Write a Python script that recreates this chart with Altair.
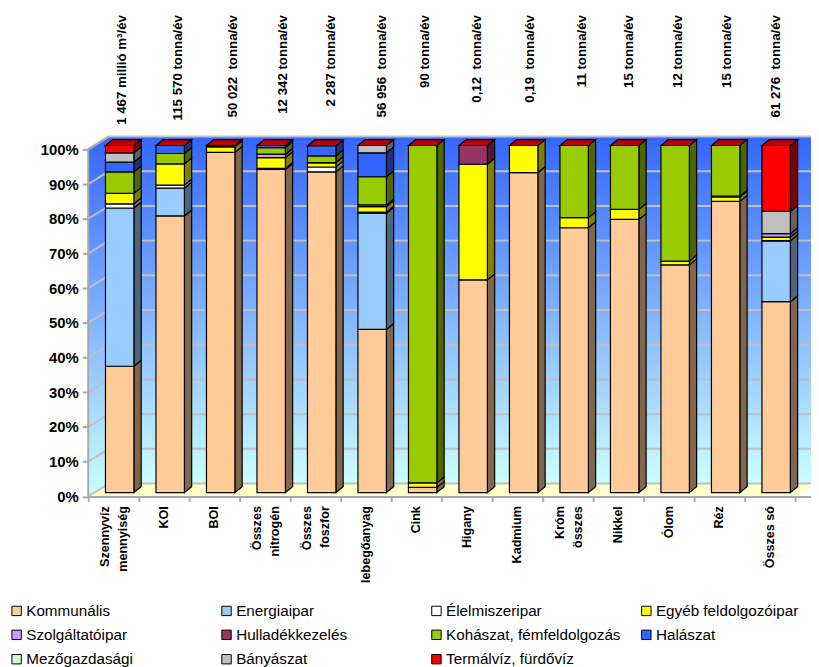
import altair as alt
import pandas as pd

categories = ["Szennyvíz\nmennyiség", "KOI", "BOI", "Összes\nnitrogén", "Összes\nfoszfor", "lebegőanyag",
              "Cink", "Higany", "Kadmium", "Króm\nösszes", "Nikkel", "Ólom", "Réz", "Összes só"]
top_labels = ["1 467 millió m³/év", "115 570 tonna/év", "50 022 \u00a0tonna/év", "12 342 tonna/év", "2 287 tonna/év",
              "56 956 \u00a0tonna/év", "90 tonna/év", "0,12 \u00a0tonna/év", "0,19 \u00a0tonna/év", "11 tonna/év",
              "15 tonna/év", "12 tonna/év", "15 tonna/év", "61 276 \u00a0tonna/év"]
top_label_nudge = [0.167, 0.275, 0.373, 0.363, 0.304, 0.324, 0.167, 0.206, 0.245, 0.285, 0.206, 0.187, 0.147, 0.128]

series = ["Kommunális", "Energiaipar", "Élelmiszeripar", "Egyéb feldolgozóipar", "Szolgáltatóipar", "Hulladékkezelés",
          "Kohászat, fémfeldolgozás", "Halászat", "Mezőgazdasági", "Bányászat", "Termálvíz, fürdővíz"]
colors = ["#ffcc99", "#99ccff", "#ffffff", "#ffff00", "#cc99ff", "#993366",
          "#99cc00", "#3366ff", "#ccffcc", "#c0c0c0", "#ff0000"]

kommunalis = [36.4, 79.7, 98.0, 93.1, 92.4, 47.0, 1.5, 61.3, 92.2, 76.3, 78.7, 65.6, 83.9, 55.0]
energia    = [45.6, 8.0, 0, 0, 0, 33.5, 0, 0, 0, 0, 0, 0, 0, 17.5]
elelmiszer = [1.2, 0.9, 0, 0.3, 1.4, 0.3, 0, 0, 0, 0, 0, 0, 0, 0.1]
egyeb      = [3.0, 6.1, 1.6, 3.1, 1.2, 1.6, 1.3, 33.3, 7.8, 2.9, 2.9, 1.1, 1.3, 1.0]
szolg      = [0, 0, 0, 1.0, 0.1, 0.5, 0, 0, 0, 0, 0, 0, 0.2, 1.0]
hulladek   = [0, 0, 0, 0, 0, 0, 0, 5.4, 0, 0, 0, 0, 0, 0]
kohaszat   = [6.2, 3.0, 0.2, 1.9, 1.9, 8.1, 97.2, 0, 0, 20.8, 18.4, 33.3, 14.6, 0]
halaszat   = [2.8, 2.3, 0.2, 0.6, 2.9, 6.9, 0, 0, 0, 0, 0, 0, 0, 0]
mezo       = [0] * 14
banyaszat  = [2.7, 0, 0, 0, 0, 2.1, 0, 0, 0, 0, 0, 0, 0, 6.4]
termal     = [2.1, 0, 0, 0, 0, 0, 0, 0, 0, 0, 0, 0, 0, 19.0]
table = [kommunalis, energia, elelmiszer, egyeb, szolg, hulladek, kohaszat, halaszat, mezo, banyaszat, termal]

# projection of the fake depth, in axis units
DX, DY = 21 / 51, 13 / 3.505
Z0, Z1 = 0.30, 0.65
BAR_UP0, BAR_UP1 = 3.9 / 3.505, 9.9 / 3.505
BAR = 28.7 / 51
XMAX = 730 / 51
N = len(categories)

def shade(h):
    return "#" + "".join(f"{int(int(h[k:k+2], 16) * 0.5):02x}" for k in (1, 3, 5))

fronts, sides, caps = [], [], []
for i in range(N):
    left = i + (1 - BAR) / 2 + Z0 * DX
    right = left + BAR
    d = (Z1 - Z0) * DX
    up0, up1 = BAR_UP0, BAR_UP1
    base = 0.0
    for j, s in enumerate(series):
        v = table[j][i]
        if v == 0:
            continue
        top = base + v
        fronts.append(dict(x=left, x2=right, y=base + up0, y2=top + up0, s=s))
        seg = f"{i}-{j}"
        sides.append(dict(x=right, y=base + up0, y2=top + up0, seg=seg, c=shade(colors[j])))
        sides.append(dict(x=right + d, y=base + up1, y2=top + up1, seg=seg, c=shade(colors[j])))
        base = top
    t = base
    caps += [dict(x=left, y=t + up0, y2=t + up0, seg=i),
             dict(x=left + d, y=t + up1, y2=t + up0, seg=i),
             dict(x=right, y=t + up1, y2=t + up0, seg=i),
             dict(x=right + d, y=t + up1, y2=t + up1, seg=i)]

x_axis = alt.Axis(values=list(range(N + 1)), labels=False, title=None, grid=False, domainColor="#a8a8a8",
                  domainWidth=2, tickColor="#a8a8a8", tickWidth=2, tickSize=5, zindex=1)
y_axis = alt.Axis(values=list(range(0, 101, 10)), labelExpr="datum.value + '%'", title=None, grid=False, domain=False,
                  tickColor="#a8a8a8", tickWidth=2, tickSize=6, labelFont="Liberation Sans", labelFontWeight="bold",
                  labelFontSize=15, labelColor="black", labelPadding=4, zindex=1)
xs = alt.Scale(domain=[0, XMAX], nice=False, zero=False)
ys = alt.Scale(domain=[0, 100], nice=False, zero=False)
X = lambda f="x": alt.X(f"{f}:Q", scale=xs, axis=x_axis)
Y = lambda f="y": alt.Y(f"{f}:Q", scale=ys, axis=y_axis)

wall_fill = alt.Gradient(gradient="linear", x1=0, x2=0, y1=0, y2=1,
                         stops=[alt.GradientStop(offset=0, color="#3366ff"),
                                alt.GradientStop(offset=1, color="#ccffff")])

back = alt.Chart(pd.DataFrame([dict(x=DX, y=DY, y2=100 + DY), dict(x=N + DX, y=DY, y2=100 + DY)])).mark_area(color=wall_fill).encode(
    x=X(), y=Y(), y2="y2:Q")
side_wall = alt.Chart(pd.DataFrame([dict(x=0, y=0, y2=100), dict(x=DX, y=DY, y2=100 + DY)])).mark_area(color=wall_fill).encode(
    x=X(), y=Y(), y2="y2:Q")
floor = alt.Chart(pd.DataFrame([dict(x=0, y=0, y2=0), dict(x=DX, y=DY, y2=0),
                                dict(x=N, y=DY, y2=0), dict(x=N + DX, y=DY, y2=DY)])).mark_area(color="#ffffcc").encode(
    x=X(), y=Y(), y2="y2:Q")

grid_rows = []
for v in range(0, 101, 10):
    grid_rows += [dict(x=0, y=v, v=v), dict(x=DX, y=v + DY, v=v), dict(x=N + DX, y=v + DY, v=v)]
grid = alt.Chart(pd.DataFrame(grid_rows)).mark_line(color="#c0c0c0", strokeWidth=2).encode(
    x=X(), y=Y(), detail="v:N")
edge = alt.Chart(pd.DataFrame([dict(x=0, y=0), dict(x=0, y=100), dict(x=DX, y=100 + DY)])).mark_line(
    color="#a8a8a8", strokeWidth=2, order=False).encode(x=X(), y=Y())

side = alt.Chart(pd.DataFrame(sides)).mark_area(stroke="black", strokeWidth=1.2).encode(
    x=X(), y=Y(), y2="y2:Q", detail="seg:N", color=alt.Color("c:N", scale=None))
cap = alt.Chart(pd.DataFrame(caps)).mark_area(stroke="black", strokeWidth=1.2, color="#c00000").encode(
    x=X(), y=Y(), y2="y2:Q", detail="seg:N")

front = alt.Chart(pd.DataFrame(fronts)).mark_rect(stroke="black", strokeWidth=1.2).encode(
    x=X(), x2="x2:Q", y=Y(), y2="y2:Q",
    color=alt.Color("s:N", scale=alt.Scale(domain=series, range=colors),
                    legend=alt.Legend(orient="none", legendX=-80, legendY=458, direction="horizontal", columns=4,
                                      title=None, symbolType="square", symbolSize=90, symbolStrokeColor="black",
                                      symbolStrokeWidth=1, symbolOpacity=1, labelFont="Liberation Sans",
                                      labelFontSize=15.4, labelColor="black", labelLimit=300, columnPadding=18,
                                      rowPadding=7.6, labelOffset=2, padding=0, gridAlign="all")),
)

cat_text = alt.Chart(pd.DataFrame([dict(x=i + 0.5 - (8 / 51 if "\n" in c else 0), y=-2.8, t=c)
                                   for i, c in enumerate(categories)])).mark_text(
    angle=270, align="right", baseline="middle", font="Liberation Sans", fontWeight="bold", fontSize=12.7,
    lineBreak="\n", lineHeight=18, color="black").encode(x=X(), y=Y(), text="t:N")
top_text = alt.Chart(pd.DataFrame([dict(x=i + 0.5 + n, y=138.7, t=c)
                                   for i, (c, n) in enumerate(zip(top_labels, top_label_nudge))])).mark_text(
    angle=270, align="right", baseline="middle", font="Liberation Sans", fontWeight="bold", fontSize=13.4,
    color="black").encode(x=X(), y=Y(), text="t:N")

chart = alt.layer(back, side_wall, floor, grid, edge, side, cap, front, cat_text, top_text).properties(
    width=730, height=350.5,
    autosize=alt.AutoSizeParams(type="none"),
    padding={"left": 81, "top": 139.5, "right": 0, "bottom": 169},
    background="white",
).configure_view(stroke=None)

chart.save("out.html", embed_options={"renderer": "svg", "actions": False})
